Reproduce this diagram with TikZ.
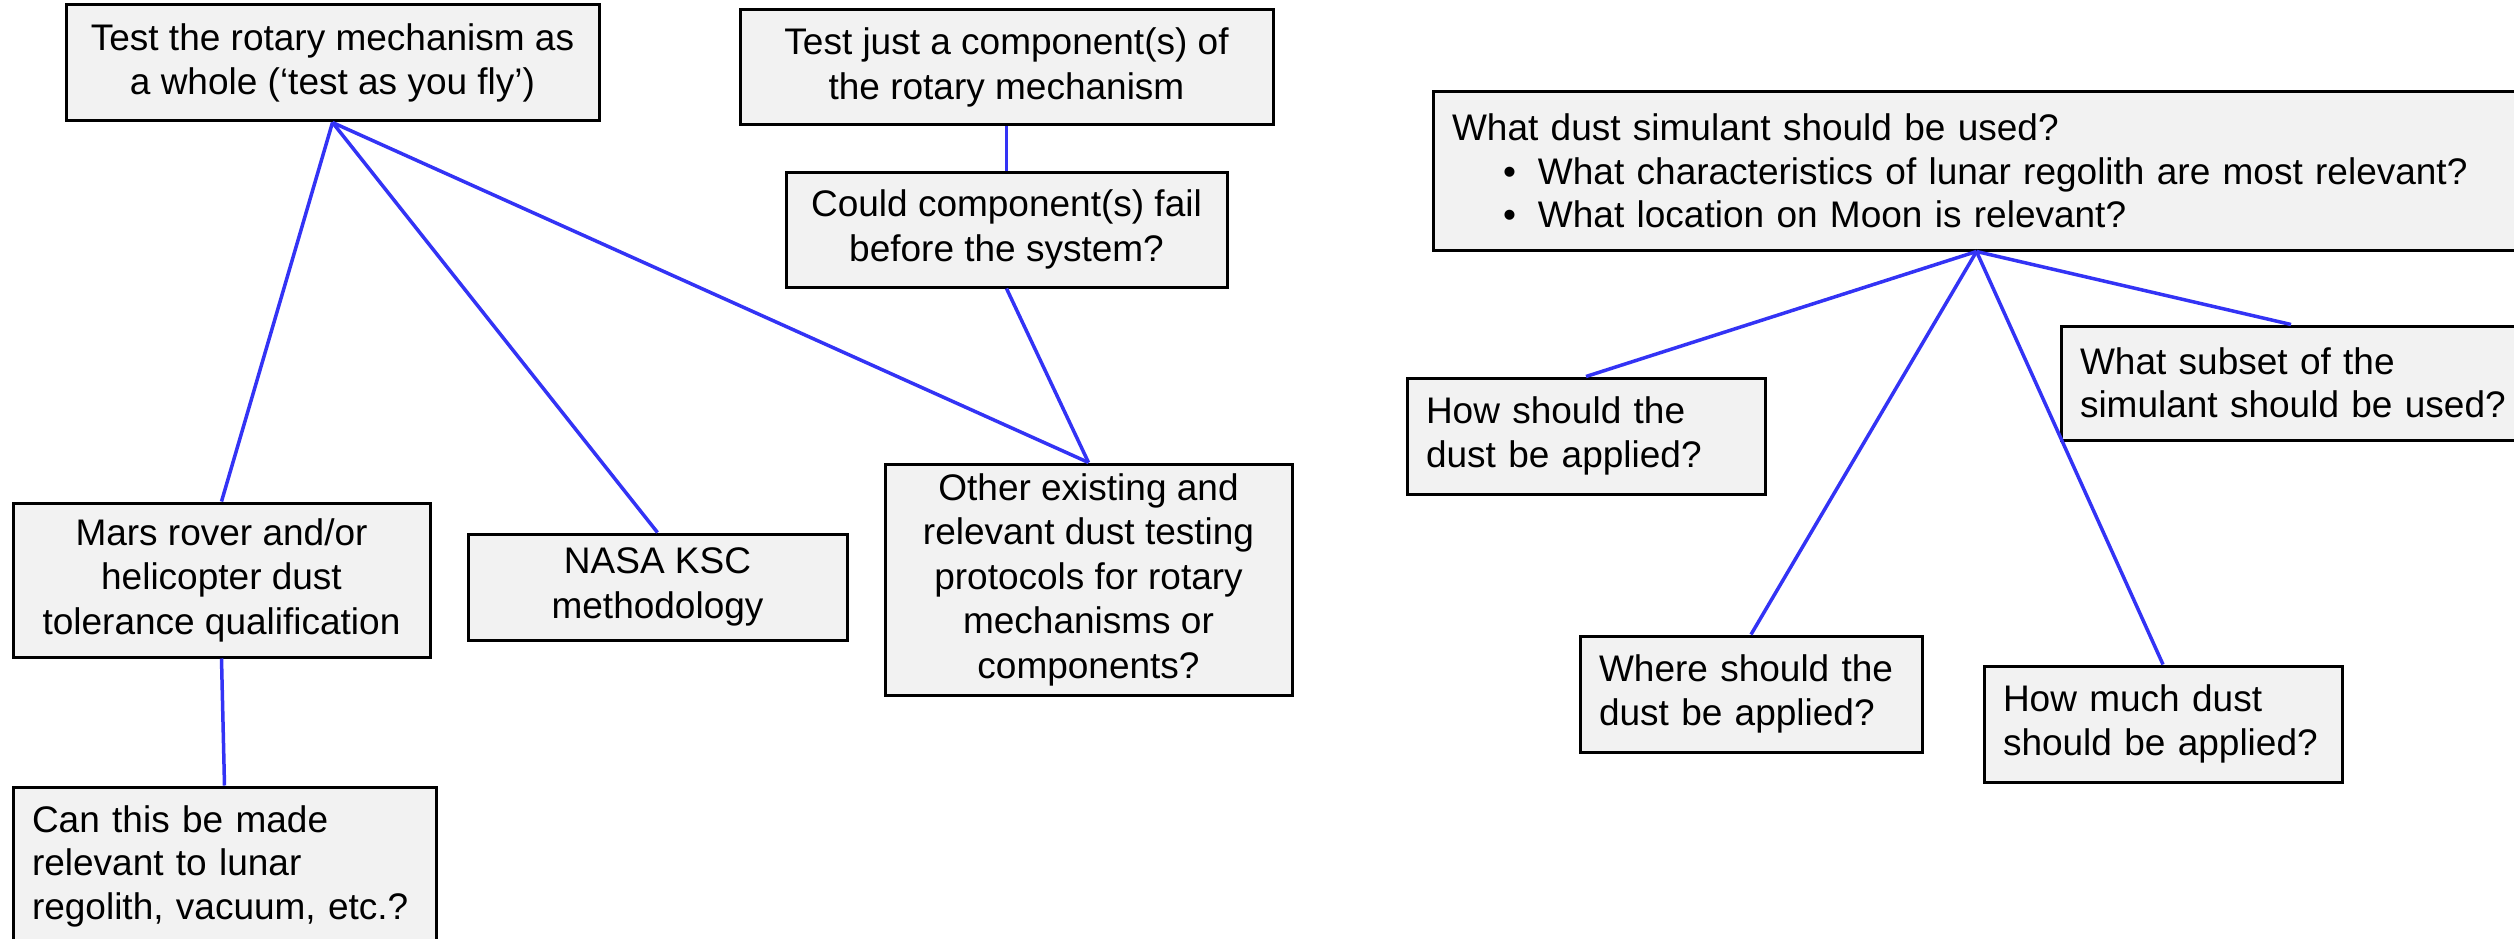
\documentclass[tikz,border=0pt]{standalone}
\usepackage{fontspec}
\setmainfont{Liberation Sans}
\definecolor{linkblue}{RGB}{51,51,245}
\definecolor{boxfill}{RGB}{242,242,242}
\begin{document}
\begin{tikzpicture}[x=1pt,y=-1pt,
  qbox/.style={draw=black,line width=3pt,fill=boxfill,inner sep=0pt,align=center,
    font=\fontsize{37}{44.5}\selectfont},
  lbox/.style={draw=black,line width=3pt,fill=boxfill,inner xsep=19pt,inner ysep=0pt,align=left,
    font=\fontsize{37}{43.5}\selectfont},
  link/.style={draw=linkblue,line width=3.5pt}]
\clip (0,0) rectangle (2514,939);
\fill[white] (0,0) rectangle (2514,939);
% left tree
\node[qbox,minimum width=533pt,minimum height=116pt] (b1) at (332.5,63) {Test the rotary mechanism as\\a whole (‘test as you fly’)};
\node[qbox,minimum width=533pt,minimum height=115pt] (b2) at (1006.5,67.5) {Test just a component(s) of\\the rotary mechanism};
\node[qbox,minimum width=441pt,minimum height=115pt] (b3) at (1006.5,229.5) {Could component(s) fail\\before the system?};
\node[qbox,minimum width=417pt,minimum height=154pt] (b4) at (221.5,580) {Mars rover and/or\\helicopter dust\\tolerance qualification};
\node[qbox,minimum width=379pt,minimum height=106pt] (b5) at (657.5,587) {NASA KSC\\methodology};
\node[qbox,minimum width=407pt,minimum height=231pt] (b6) at (1088.5,579.5) {Other existing and\\relevant dust testing\\protocols for rotary\\mechanisms or\\components?};
\node[lbox,text width=385pt,minimum height=158pt] (b7) at (224.5,866) {\mbox{Can this be made}\\\mbox{relevant to lunar}\\\mbox{regolith, vacuum, etc.?}};
% right tree
\node[lbox,text width=1049pt,minimum height=158pt] (b8) at (1976.5,171) {\mbox{What dust simulant should be used?}\\\mbox{\hspace*{51pt}\makebox[35pt][l]{•}What characteristics of lunar regolith are most relevant?}\\\mbox{\hspace*{51pt}\makebox[35pt][l]{•}What location on Moon is relevant?}};
\node[lbox,text width=320pt,minimum height=116pt] (b9) at (1586,436) {\mbox{How should the}\\\mbox{dust be applied?}};
\node[lbox,text width=422pt,minimum height=114pt] (b10) at (2291,383) {\mbox{What subset of the}\\\mbox{simulant should be used?}};
\node[lbox,text width=304pt,minimum height=116pt] (b11) at (1751,694) {\mbox{Where should the}\\\mbox{dust be applied?}};
\node[lbox,text width=320pt,minimum height=116pt] (b12) at (2163,724) {\mbox{How much dust}\\\mbox{should be applied?}};
% connectors
\draw[link] (b1.south) -- (b4.north);
\draw[link] (b1.south) -- (b5.north);
\draw[link] (b1.south) -- (b6.north);
\draw[link] (b2.south) -- (b3.north);
\draw[link] (b3.south) -- (b6.north);
\draw[link] (b4.south) -- (b7.north);
\draw[link] (b8.south) -- (b9.north);
\draw[link] (b8.south) -- (b10.north);
\draw[link] (b8.south) -- (b11.north);
\draw[link] (b8.south) -- (b12.north);
\end{tikzpicture}
\end{document}
